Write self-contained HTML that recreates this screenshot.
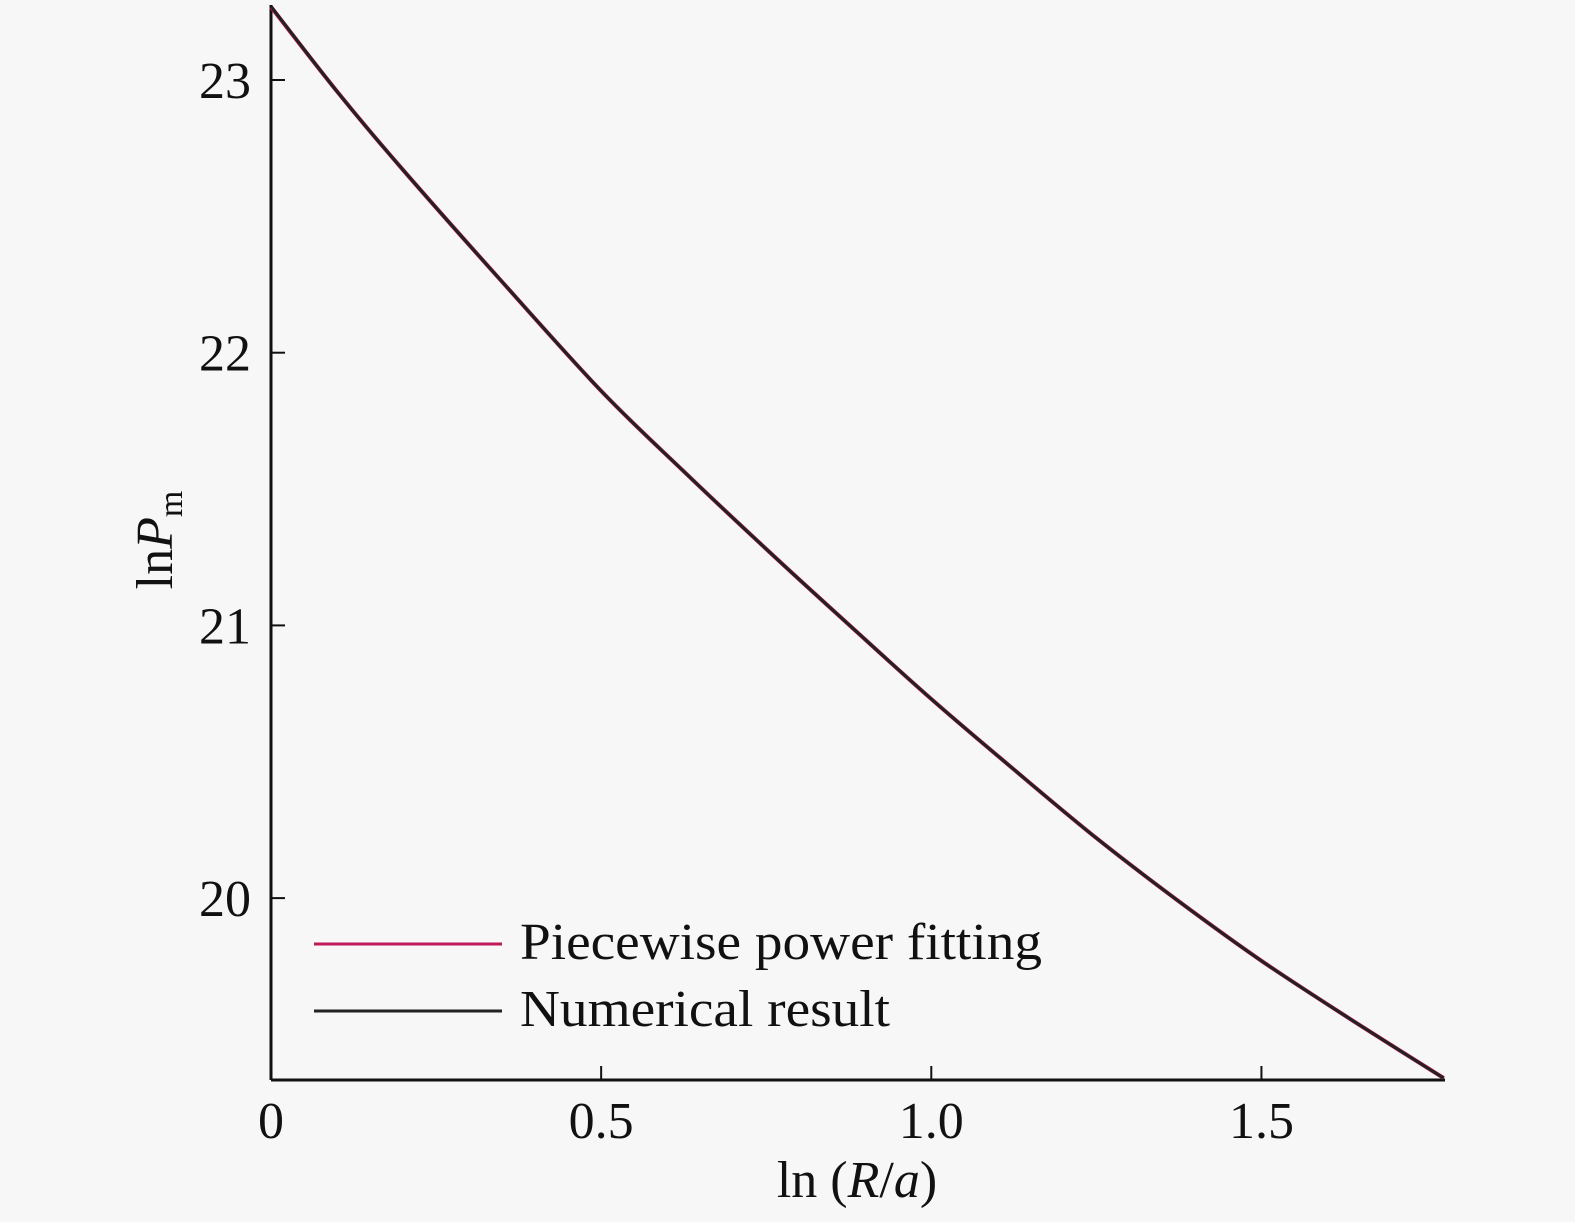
<!DOCTYPE html>
<html><head><meta charset="utf-8"><style>
body{margin:0;background:#f7f7f7;}
svg{display:block;font-family:"Liberation Serif",serif;}
</style></head><body>
<svg width="1575" height="1222">
<rect width="1575" height="1222" fill="#f7f7f7"/>
<g id="axes"></g>
<g id="marks"></g>
<g>
<line x1="314" y1="944" x2="502" y2="944" stroke="#c0185a" stroke-width="3"/>
<text x="520" y="959" font-size="52" textLength="522" lengthAdjust="spacingAndGlyphs" fill="#111">Piecewise power fitting</text>
<line x1="314" y1="1011" x2="502" y2="1011" stroke="#222" stroke-width="3"/>
<text x="520" y="1026" font-size="52" textLength="370" lengthAdjust="spacingAndGlyphs" fill="#111">Numerical result</text>
</g>
<text x="857" y="1197" font-size="52" text-anchor="middle" fill="#111">ln (<tspan font-style="italic">R</tspan>/<tspan font-style="italic">a</tspan>)</text>
<text transform="translate(172,540) rotate(-90)" font-size="52" text-anchor="middle" fill="#111">ln<tspan font-style="italic">P</tspan><tspan font-size="34" dy="10">m</tspan></text>
</svg>
<script>
const xTicks=[0,0.5,1.0,1.5];
const xTickLabels=["0","0.5","1.0","1.5"];
const yTicks=[20,21,22,23];
const yTickLabels=["20","21","22","23"];
const xs=[0,0.1,0.2,0.35,0.5,0.625,0.75,0.875,1.0,1.125,1.25,1.375,1.5,1.64,1.776];
const fitY=[23.268,22.958,22.67,22.26,21.86,21.565,21.28,21.003,20.73,20.472,20.22,19.988,19.77,19.548,19.34];
const numY=[23.27,22.958,22.67,22.26,21.86,21.565,21.28,21.003,20.73,20.472,20.22,19.988,19.77,19.548,19.34];
const X0=271,X1=1445,Y0=1080,Y1=5,xmin=0,xmax=1.778,ymin=19.333,ymax=23.275;
const sx=v=>X0+(v-xmin)/(xmax-xmin)*(X1-X0);
const sy=v=>Y0-(v-ymin)/(ymax-ymin)*(Y0-Y1);
const NS="http://www.w3.org/2000/svg";
const axes=document.getElementById('axes'),marks=document.getElementById('marks');
function mk(t,a,p){const e=document.createElementNS(NS,t);for(const k in a)e.setAttribute(k,a[k]);p.appendChild(e);return e;}
let e=mk('line',{x1:X0,y1:Y1,x2:X0,y2:Y0,stroke:'#111','stroke-width':3},axes);


e=mk('line',{x1:X0,y1:Y0,x2:X1,y2:Y0,stroke:'#111','stroke-width':3},axes);


xTicks.forEach((v,i)=>{
 let t=mk('line',{x1:sx(v),y1:Y0,x2:sx(v),y2:Y0-14,stroke:'#111','stroke-width':2},axes);
 
 
 let l=mk('text',{x:sx(v),y:Y0+58,'font-size':52,'text-anchor':'middle',fill:'#111'},axes);
 l.textContent=xTickLabels[i];
 
 
});
yTicks.forEach((v,i)=>{
 let t=mk('line',{x1:X0,y1:sy(v),x2:X0+14,y2:sy(v),stroke:'#111','stroke-width':2},axes);
 
 
 let l=mk('text',{x:X0-20,y:sy(v)+18,'font-size':52,'text-anchor':'end',fill:'#111'},axes);
 l.textContent=yTickLabels[i];
 
 
});
function path(ys){
 const P=xs.map((x,i)=>[sx(x),sy(ys[i])]);
 let d='M'+P[0][0].toFixed(1)+','+P[0][1].toFixed(1);
 for(let i=0;i<P.length-1;i++){
  const p0=P[Math.max(0,i-1)],p1=P[i],p2=P[i+1],p3=P[Math.min(P.length-1,i+2)];
  const c1=[p1[0]+(p2[0]-p0[0])/6,p1[1]+(p2[1]-p0[1])/6];
  const c2=[p2[0]-(p3[0]-p1[0])/6,p2[1]-(p3[1]-p1[1])/6];
  d+='C'+c1.map(n=>n.toFixed(1))+' '+c2.map(n=>n.toFixed(1))+' '+p2.map(n=>n.toFixed(1));
 }
 return d;
}
e=mk('path',{d:path(fitY),fill:'none',stroke:'#c0185a','stroke-width':4},marks);


e=mk('path',{d:path(numY),fill:'none',stroke:'#222','stroke-width':3},marks);


</script>
</body></html>
